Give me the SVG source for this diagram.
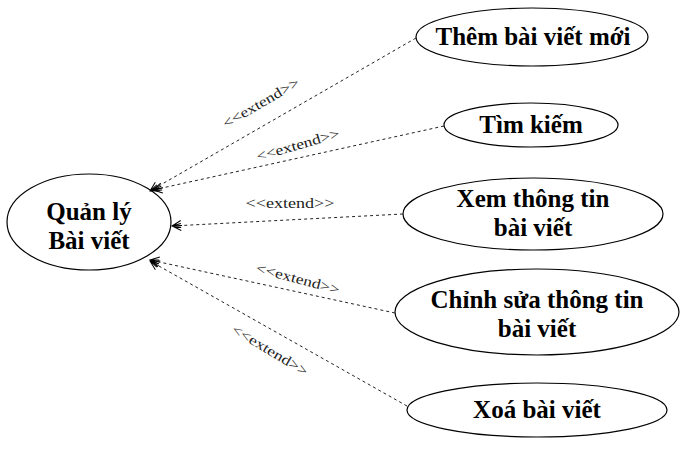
<svg xmlns="http://www.w3.org/2000/svg" width="689" height="450" viewBox="0 0 689 450">
<style>
.uc{fill:#fff;stroke:#000;stroke-width:1.2}
.t{font-family:"Liberation Serif","Times New Roman",serif;font-weight:bold;font-size:25px;text-anchor:middle;fill:#000}
.c{fill:none;stroke:#222;stroke-width:1;stroke-dasharray:3,3}
.l{font-family:"Liberation Serif","Times New Roman",serif;font-size:14px;text-anchor:middle;fill:#222}
</style>
<defs>
<marker id="arr" viewBox="0 0 12 12" refX="11" refY="6" markerWidth="12" markerHeight="12" markerUnits="userSpaceOnUse" orient="auto">
<path d="M2,1 L11,6 L2,11 M2,4 L11,6 L2,8 M1,6 L11,6" fill="none" stroke="#000" stroke-width="1"/>
</marker>
</defs>
<rect width="689" height="450" fill="#fff"/>
<g id="quan-ly">
<ellipse class="uc" cx="89" cy="222" rx="82" ry="48"/>
<text class="t" x="89" y="220">Quản lý</text>
<text class="t" x="89" y="249">Bài viết</text>
</g>
<g id="them">
<ellipse class="uc" cx="532" cy="37" rx="116" ry="29"/>
<text class="t" x="533" y="45">Thêm bài viết mới</text>
</g>
<g id="tim">
<ellipse class="uc" cx="531" cy="125" rx="87" ry="22"/>
<text class="t" x="531" y="133">Tìm kiếm</text>
</g>
<g id="xem">
<ellipse class="uc" cx="533" cy="214" rx="130" ry="36"/>
<text class="t" x="533" y="207">Xem thông tin</text>
<text class="t" x="533" y="236">bài viết</text>
</g>
<g id="chinh">
<ellipse class="uc" cx="537" cy="312" rx="142" ry="43"/>
<text class="t" x="537" y="308">Chỉnh sửa thông tin</text>
<text class="t" x="537" y="337">bài viết</text>
</g>
<g id="xoa">
<ellipse class="uc" cx="537" cy="410" rx="130" ry="27"/>
<text class="t" x="537" y="418">Xoá bài viết</text>
</g>
<g id="connectors">
<line class="c" x1="416" y1="38" x2="150" y2="191" marker-end="url(#arr)"/>
<line class="c" x1="444" y1="126" x2="153" y2="190" marker-end="url(#arr)"/>
<line class="c" x1="403" y1="214" x2="172" y2="226" marker-end="url(#arr)"/>
<line class="c" x1="395" y1="313" x2="150" y2="260" marker-end="url(#arr)"/>
<line class="c" x1="407" y1="406" x2="150" y2="261" marker-end="url(#arr)"/>
<g transform="translate(261,103) rotate(-30)"><text class="l" x="0" y="4.5" textLength="86" lengthAdjust="spacingAndGlyphs">&lt;&lt;extend&gt;&gt;</text></g>
<g transform="translate(298,145) rotate(-16)"><text class="l" x="0" y="4.5" textLength="86" lengthAdjust="spacingAndGlyphs">&lt;&lt;extend&gt;&gt;</text></g>
<g transform="translate(290,203.5)"><text class="l" x="0" y="4.5" textLength="89" lengthAdjust="spacingAndGlyphs">&lt;&lt;extend&gt;&gt;</text></g>
<g transform="translate(298,279) rotate(15)"><text class="l" x="0" y="4.5" textLength="86" lengthAdjust="spacingAndGlyphs">&lt;&lt;extend&gt;&gt;</text></g>
<g transform="translate(270,350.5) rotate(31)"><text class="l" x="0" y="4.5" textLength="86" lengthAdjust="spacingAndGlyphs">&lt;&lt;extend&gt;&gt;</text></g>
</g>
</svg>
